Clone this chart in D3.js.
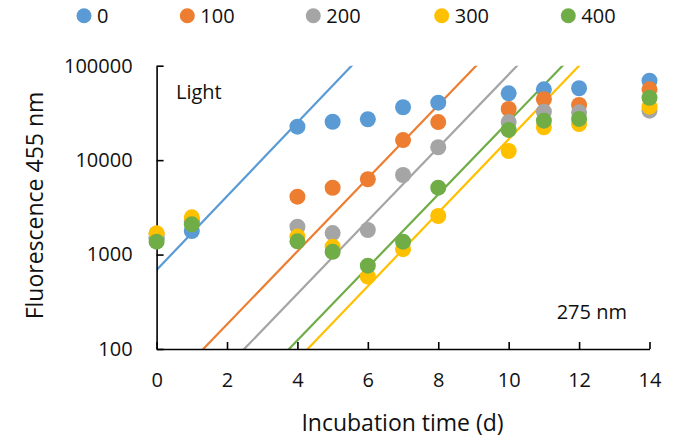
<!DOCTYPE html>
<meta charset="utf-8">
<title>Fluorescence vs incubation time</title>
<style>
    body {
        margin: 0;
        background: #fff;
        overflow: hidden;
    }

    svg {
        font-family: "Open Sans", sans-serif;
    }

    .axis path,
    .axis line {
        stroke: #000;
        stroke-width: 1.6px;
    }

    .axis text {
        font-size: 20px;
        fill: #111;
        font-family: "Open Sans", sans-serif;
    }
</style>

<body>
    <svg width="674" height="439"></svg>

    <script src="https://d3js.org/d3.v7.min.js"></script>
    <script>
        // incubation days and the five series (legend labels)
        const days = [0, 1, 4, 5, 6, 7, 8, 10, 11, 12, 14];
        const seriesNames = ["0", "100", "200", "300", "400"];
        const colors = ["#5B9BD5", "#ED7D31", "#A5A5A5", "#FFC000", "#70AD47"];

        const f0 = [1500, 1776, 22600, 25500, 27100, 36300, 40600, 51000, 56200, 57700, 69400];
        const f100 = [1650, 2300, 4100, 5100, 6270, 16300, 25300, 34800, 44100, 38400, 56200];
        const f200 = [1500, 2200, 1970, 1690, 1820, 6960, 13700, 25300, 32600, 32100, 33400];
        const f300 = [1680, 2480, 1550, 1210, 583, 1140, 2560, 12500, 22300, 24100, 36800];
        const f400 = [1370, 2090, 1380, 1070, 762, 1370, 5110, 20900, 26200, 27300, 45800];
        const values = [f0, f100, f200, f300, f400];

        // exponential trendlines y = a * exp(b * x)
        const trendA = [687, 30.7, 10.9, 2.14, 3.53];
        const trendB = [0.899, 0.891, 0.891, 0.896, 0.889];

        const xTicks = [0, 2, 4, 6, 8, 10, 12, 14];
        const yTicks = [100, 1000, 10000, 100000];

        const svg = d3.select("svg");

        const plotLeft = 156.6, plotRight = 649.5, plotTop = 65.7, plotBottom = 349;

        const x = d3.scaleLinear().domain([0, 14]).range([plotLeft, plotRight]);
        const y = d3.scaleLog().domain([100, 100000]).range([plotBottom, plotTop]);

        svg.append("defs").append("clipPath")
            .attr("id", "plot-clip")
            .append("rect")
            .attr("x", plotLeft)
            .attr("y", plotTop)
            .attr("width", plotRight - plotLeft)
            .attr("height", plotBottom - plotTop);

        // trendlines (straight on a log axis, so two end points do)
        const line = d3.line()
            .x(d => x(d[0]))
            .y(d => y(d[1]));

        svg.append("g")
            .attr("clip-path", "url(#plot-clip)")
            .selectAll("path")
            .data(seriesNames)
            .join("path")
            .attr("fill", "none")
            .attr("stroke", (d, i) => colors[i])
            .attr("stroke-width", 2.2)
            .attr("d", (d, i) => line(x.domain().map(t => [t, trendA[i] * Math.exp(trendB[i] * t)])));

        // axes, ticks pointing inward
        svg.append("g")
            .attr("class", "axis")
            .attr("transform", `translate(${plotLeft},0)`)
            .call(d3.axisLeft(y)
                .tickValues(yTicks)
                .tickFormat(d3.format("d"))
                .tickSize(-7)
                .tickSizeOuter(0)
                .tickPadding(24));

        svg.append("g")
            .attr("class", "axis")
            .attr("transform", `translate(0,${plotBottom})`)
            .call(d3.axisBottom(x)
                .tickValues(xTicks)
                .tickSize(-7)
                .tickSizeOuter(0)
                .tickPadding(24));

        // markers: one group per series, green ends on top
        svg.append("g")
            .selectAll("g")
            .data(values)
            .join("g")
            .attr("fill", (d, i) => colors[i])
            .selectAll("circle")
            .data(d => d.map((v, j) => [days[j], v]))
            .join("circle")
            .attr("cx", d => x(d[0]))
            .attr("cy", d => y(d[1]))
            .attr("r", 8);

        // legend
        const legendX = [84, 187.3, 313.3, 441.7, 568.3];
        const legend = svg.append("g")
            .selectAll("g")
            .data(seriesNames)
            .join("g")
            .attr("transform", (d, i) => `translate(${legendX[i]},15.7)`);

        legend.append("circle")
            .attr("r", 7.5)
            .attr("fill", (d, i) => colors[i]);

        legend.append("text")
            .attr("x", 13)
            .attr("y", 7.5)
            .attr("font-size", 20)
            .attr("fill", "#111")
            .text(d => d);

        // titles and notes
        svg.append("text")
            .attr("transform", "translate(43,205.5) rotate(-90)")
            .attr("text-anchor", "middle")
            .attr("font-size", 23)
            .attr("fill", "#111")
            .text("Fluorescence 455 nm");

        svg.append("text")
            .attr("x", 402.5)
            .attr("y", 430.7)
            .attr("text-anchor", "middle")
            .attr("font-size", 23)
            .attr("fill", "#111")
            .text("Incubation time (d)");

        svg.append("text")
            .attr("x", 176)
            .attr("y", 99.3)
            .attr("font-size", 20)
            .attr("fill", "#111")
            .text("Light");

        svg.append("text")
            .attr("x", 556.7)
            .attr("y", 319.3)
            .attr("font-size", 20)
            .attr("fill", "#111")
            .text("275 nm");
    </script>
</body>

</html>
